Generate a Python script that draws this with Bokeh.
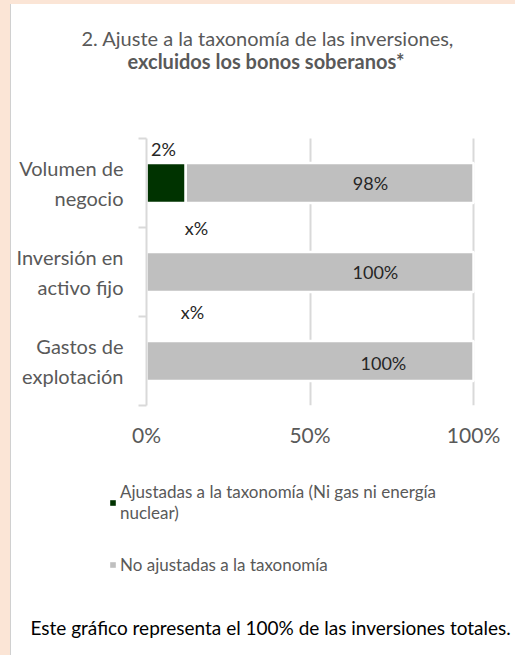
from bokeh.plotting import figure
from bokeh.layouts import column, row
from bokeh.models import (Range1d, FixedTicker, Title, Legend, LegendItem,
                          ColumnDataSource, Div, Grid)
from bokeh.embed import file_html
from bokeh.resources import INLINE
from bokeh.core.properties import value

# ---------------- data ----------------
categories = ["Volumen de\nnegocio", "Inversión en\nactivo fijo", "Gastos de\nexplotación"]
aligned = [12, 0, 0]            # green segment as drawn
not_aligned = [88, 100, 100]    # grey segment as drawn
aligned_labels = ["2%", "x%", "x%"]
not_aligned_labels = ["98%", "100%", "100%"]
x_ticks = [0, 50, 100]
x_tick_labels = ["0%", "50%", "100%"]
series_names = ["Ajustadas a la taxonomía (Ni gas ni energía\nnuclear)",
                "No ajustadas a la taxonomía"]
title_line1 = "2. Ajuste a la taxonomía de las inversiones,"
title_line2 = "excluidos los bonos soberanos*"
footnote = "Este gráfico representa el 100% de las inversiones totales."

# ---------------- styles ----------------
FONT = "Lato"
GREEN = "#003300"
GREY = "#BFBFBF"
GRID = "#D9D9D9"
TEXT_GREY = "#595959"
PEACH = "#FBE5D6"
GREY_LABEL_FRAC = 0.70
grey_label_dx = [-5, 0, 8]
grey_label_dy = [0, 0, 2]
green_label_dx = [17, 50, 46]
green_label_dy = [-34, -44, -49]
TOP_PAD = 0.708   # empty band above the first bar (in category units)

n = len(categories)
ypos = [i + 0.5 for i in range(n)]
total = [a + b for a, b in zip(aligned, not_aligned)]

src = ColumnDataSource(dict(
    y=ypos, aligned=aligned, total=total,
    grey_x=[t * GREY_LABEL_FRAC for t in total],
    zero=[0] * n,
    al_lab=aligned_labels, na_lab=not_aligned_labels,
    gdx=grey_label_dx, gdy=grey_label_dy,
    adx=green_label_dx, ady=green_label_dy,
))

chart = figure(width=504, height=456, output_backend="svg", toolbar_location=None,
               x_range=Range1d(0, 100.6), y_range=Range1d(n, -TOP_PAD),
               min_border_left=135, min_border_right=40,
               min_border_top=71, min_border_bottom=55,
               background_fill_color="white", border_fill_color="white",
               outline_line_color=None, title=None)

# vertical gridlines limited to the bar area
if "cross_bounds" in Grid.properties():
    chart.xgrid.ticker = FixedTicker(ticks=x_ticks)
    chart.xgrid.cross_bounds = (0, n)
    chart.xgrid.grid_line_color = GRID
    chart.xgrid.grid_line_width = 2
else:
    chart.xgrid.visible = False
    chart.segment(x0=x_ticks, x1=x_ticks, y0=[0] * len(x_ticks), y1=[n] * len(x_ticks),
                  line_color=GRID, line_width=2, level="underlay")
chart.ygrid.visible = False

chart.hbar(y="y", left=0, right="aligned", height=0.45, source=src,
           fill_color=GREEN, line_color="white", line_width=2.5)
chart.hbar(y="y", left="aligned", right="total", height=0.45, source=src,
           fill_color=GREY, line_color="white", line_width=2.5)

chart.text(x="grey_x", y="y", text="na_lab", x_offset="gdx", y_offset="gdy", source=src,
           text_font=value(FONT), text_font_size="18px", text_color="#262626",
           text_align="center", text_baseline="middle")
chart.text(x="zero", y="y", text="al_lab", x_offset="adx", y_offset="ady", source=src,
           text_font=value(FONT), text_font_size="18px", text_color="#262626",
           text_align="center", text_baseline="middle")

# axes
xa = chart.xaxis[0]
xa.ticker = FixedTicker(ticks=x_ticks)
xa.major_label_overrides = {t: l for t, l in zip(x_ticks, x_tick_labels)}
xa.axis_line_color = None
xa.major_tick_line_color = None
xa.minor_tick_line_color = None
xa.major_tick_out = 0
xa.major_label_standoff = 16
xa.major_label_text_font = FONT
xa.major_label_text_font_size = "21px"
xa.major_label_text_color = TEXT_GREY

ya = chart.yaxis[0]
ya.bounds = (0, n)
ya.ticker = FixedTicker(ticks=ypos, minor_ticks=list(range(n + 1)))
ya.major_label_overrides = {y: c for y, c in zip(ypos, categories)}
ya.axis_line_color = GRID
ya.axis_line_width = 2
ya.major_tick_line_color = None
ya.major_tick_out = 0
ya.minor_tick_line_color = GRID
ya.minor_tick_line_width = 2
ya.minor_tick_out = 8
ya.minor_tick_in = 0
ya.major_label_standoff = 15
ya.major_label_text_font = FONT
ya.major_label_text_font_size = "20px"
ya.major_label_text_color = TEXT_GREY
ya.major_label_text_align = "center"
ya.major_label_text_line_height = 1.24

# titles (later added = further from plot)
chart.add_layout(Title(text=title_line2, align="left", offset=-19, standoff=6,
                       text_font=FONT, text_font_size="20px", text_font_style="bold",
                       text_color=TEXT_GREY), "above")
chart.add_layout(Title(text=title_line1, align="left", offset=-65, standoff=-12,
                       text_font=FONT, text_font_size="20px", text_font_style="normal",
                       text_color=TEXT_GREY), "above")

# ---------------- legend + footnote panel ----------------
leg = figure(width=503, height=195, output_backend="svg", toolbar_location=None,
             x_range=Range1d(0, 1), y_range=Range1d(0, 1),
             x_axis_location=None, y_axis_location=None,
             min_border_left=97, min_border_right=0,
             min_border_top=10, min_border_bottom=42,
             background_fill_color="white", border_fill_color="white",
             outline_line_color=None, title=None)
leg.grid.visible = False
# zero-area stand-ins that only carry the legend swatch colours
r1 = leg.hbar(y=[0], left=[0], right=[0], height=0, fill_color=GREEN, line_color=None)
r2 = leg.hbar(y=[0], left=[0], right=[0], height=0, fill_color=GREY, line_color=None)
legend = Legend(items=[LegendItem(label=series_names[0], renderers=[r1]),
                       LegendItem(label=series_names[1], renderers=[r2])],
                location=(0, 38), orientation="vertical",
                glyph_width=7, glyph_height=7, label_standoff=4,
                spacing=31, padding=0, margin=0,
                border_line_color=None, background_fill_alpha=0,
                label_text_font=FONT, label_text_font_size="17px",
                label_text_color=TEXT_GREY, label_text_line_height=1.4)
leg.add_layout(legend)
leg.add_layout(Title(text=footnote, align="left", offset=-79, standoff=0,
                     text_font=FONT, text_font_size="19px", text_font_style="normal",
                     text_color="black"), "below")

top_strip = Div(width=515, height=4, margin=0, styles={"background-color": PEACH})
left_strip = Div(width=11, height=651, margin=0,
                 styles={"background-color": PEACH,
                         "border-right": "1px solid #D0D0D0",
                         "box-sizing": "border-box"})
gap = Div(width=1, height=195, margin=0, styles={"background-color": "white"})
p = column(top_strip,
           row(left_strip, column(chart, row(gap, leg, spacing=0), spacing=0), spacing=0),
           spacing=0)

open("out.html", "w").write(file_html(p, INLINE))
